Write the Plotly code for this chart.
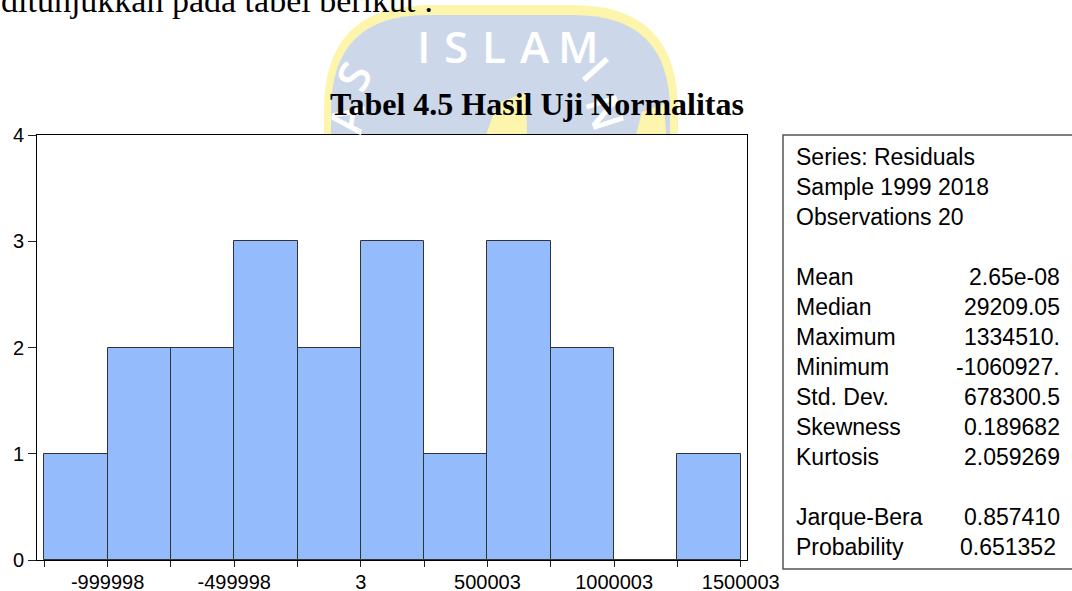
import plotly.graph_objects as go

W, H = 1072, 591

# ---- data ----
bin_left = [-1249998, -999998, -749998, -499998, -249998, 3, 250003, 500003, 750003, 1000003, 1250003]
bin_width = 250000
counts = [1, 2, 2, 3, 2, 3, 1, 3, 2, 0, 1]
x_tick_vals = [-1249998, -999998, -749998, -499998, -249998, 3, 250003, 500003, 750003, 1000003, 1250003, 1500003]
x_tick_text = ["", "-999998", "", "-499998", "", "3", "", "500003", "", "1000003", "", "1500003"]
y_tick_vals = [0, 1, 2, 3, 4]

stat_labels = ["Series: Residuals", "Sample 1999 2018", "Observations 20", "",
               "Mean", "Median", "Maximum", "Minimum", "Std. Dev.", "Skewness", "Kurtosis", "",
               "Jarque-Bera", "Probability"]
stat_values = ["", "", "", "",
               "2.65e-08", "29209.05", "1334510.", "-1060927.", "678300.5", "0.189682", "2.059269", "",
               "0.857410", "0.651352"]

title_text = "Tabel 4.5 Hasil Uji Normalitas"
top_text = "ditunjukkan pada tabel berikut :"


def px(x):
    return x / W


def py(y):
    return 1 - y / H


centers = [b + bin_width / 2 for b in bin_left]

fig = go.Figure()
fig.add_trace(go.Bar(
    x=centers, y=counts, width=[bin_width] * len(counts),
    marker=dict(color="#94bcfc", line=dict(color="#333333", width=1)),
    hoverinfo="skip", showlegend=False,
))

sans = "Liberation Sans, Arial, sans-serif"
serif = "Liberation Serif, Times New Roman, serif"

shapes = []
annotations = []

# ---- watermark (decorative logo behind title) ----
def rounded_top(x0, x1, ytop, ybot, r):
    return (f"M {px(x0)},{py(ybot)} L {px(x0)},{py(ytop + r)} "
            f"Q {px(x0)},{py(ytop)} {px(x0 + r)},{py(ytop)} "
            f"L {px(x1 - r)},{py(ytop)} "
            f"Q {px(x1)},{py(ytop)} {px(x1)},{py(ytop + r)} "
            f"L {px(x1)},{py(ybot)} Z")

shapes.append(dict(type="path", xref="paper", yref="paper", layer="below",
                   path=rounded_top(324, 678, 5, 135, 105),
                   fillcolor="#fcf5ab", line=dict(width=0)))
shapes.append(dict(type="path", xref="paper", yref="paper", layer="below",
                   path=rounded_top(331, 670, 15, 135, 96),
                   fillcolor="#ccd8ea", line=dict(width=0)))
# yellow logo parts
for pts in [[(486, 135), (497, 104), (526, 92), (527, 135)],
            [(636, 135), (642, 112), (664, 104), (666, 135)]]:
    p = "M " + " L ".join(f"{px(a)},{py(b)}" for a, b in pts) + " Z"
    shapes.append(dict(type="path", xref="paper", yref="paper", layer="below",
                       path=p, fillcolor="#fcf5ab", line=dict(width=0)))

for ch, cx in zip("ISLAM", [423, 456, 494, 535, 578]):
    annotations.append(dict(text=ch, x=px(cx), y=py(46), xref="paper", yref="paper",
                            xanchor="center", yanchor="middle",
                            showarrow=False,
                            font=dict(family="Open Sans, sans-serif", size=44, color="white", weight=600)))
for ch, cx, cy, ang in [("S", 353, 76, -62), ("A", 346, 118, -82), ("I", 596, 68, 48), ("N", 606, 112, 72)]:
    annotations.append(dict(text=ch, x=px(cx), y=py(cy), xref="paper", yref="paper", textangle=ang,
                            xanchor="center", yanchor="middle",
                            showarrow=False,
                            font=dict(family="Open Sans, sans-serif", size=44, color="white", weight=600)))

# ---- texts ----
annotations.append(dict(text=top_text, x=px(-1), y=py(1), xref="paper", yref="paper",
                        xanchor="left", yanchor="middle", showarrow=False,
                        font=dict(family=serif, size=34, color="black")))
annotations.append(dict(text="<b>" + title_text + "</b>", x=px(537), y=py(104), xref="paper", yref="paper",
                        xanchor="center", yanchor="middle", showarrow=False,
                        font=dict(family=serif, size=32, color="black")))

# ---- stats box ----
shapes.append(dict(type="rect", xref="paper", yref="paper",
                   x0=px(783), x1=px(1080), y0=py(569), y1=py(135),
                   line=dict(color="#555555", width=1.5), fillcolor="white"))
for i, (lab, val) in enumerate(zip(stat_labels, stat_values)):
    yy = 157 + 30 * i
    if lab:
        annotations.append(dict(text=lab, x=px(794), y=py(yy), xref="paper", yref="paper",
                                xanchor="left", yanchor="middle", showarrow=False,
                                font=dict(family=sans, size=23, color="black")))
    if val:
        xr = 1058 if lab == "Probability" else 1062
        annotations.append(dict(text=val, x=px(xr), y=py(yy), xref="paper", yref="paper",
                                xanchor="right", yanchor="middle", showarrow=False,
                                font=dict(family=sans, size=23, color="black")))

fig.update_layout(
    width=W, height=H,
    margin=dict(l=0, r=0, t=0, b=0),
    paper_bgcolor="white", plot_bgcolor="white",
    bargap=0,
    shapes=shapes, annotations=annotations,
    xaxis=dict(domain=[37 / W, 747 / W], range=[-1278825, 1524880],
               tickvals=x_tick_vals, ticktext=x_tick_text,
               ticks="outside", ticklen=6, tickcolor="#222", tickwidth=1,
               ticklabelstandoff=-2,
               showline=True, linecolor="black", linewidth=1, mirror=True,
               showgrid=False, zeroline=False, automargin=False,
               tickfont=dict(family=sans, size=20, color="black")),
    yaxis=dict(domain=[31 / H, 456 / H], range=[0, 4],
               tickvals=y_tick_vals, ticks="outside", ticklen=8, tickcolor="#222", tickwidth=1,
               showline=True, linecolor="black", linewidth=1, mirror=True,
               showgrid=False, zeroline=False, automargin=False,
               tickfont=dict(family=sans, size=20, color="black")),
)

fig.write_html("out.html", config={"displayModeBar": False},
               post_script="document.body.style.margin='0px';document.body.style.overflow='hidden';")
